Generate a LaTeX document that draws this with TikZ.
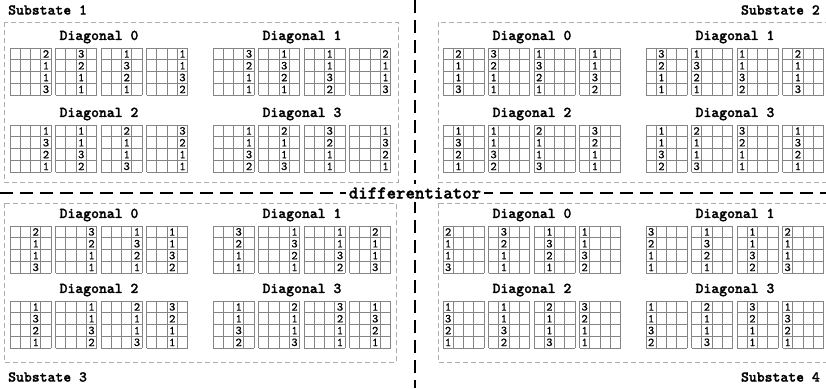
\documentclass[tikz,border=0pt]{standalone}
\usepackage{fontspec}
\newfontfamily\cbold[FakeBold=1.2]{lmmonolt10-bold.otf}
\newfontfamily\creg[FakeBold=0.4]{lmmono10-regular.otf}
\def\cw{10.3}
\def\ch{11.8}
\expandafter\def\csname sq0\endcsname{2,1,1,3}
\expandafter\def\csname sq1\endcsname{3,2,1,1}
\expandafter\def\csname sq2\endcsname{1,3,2,1}
\expandafter\def\csname sq3\endcsname{1,1,3,2}
\newcommand\cellgrid[5]{% name, x, y, col, numbers (macro)
  \begin{scope}[shift={(#2,#3)}]
    \foreach \i in {0,...,4}{
      \draw[gl] ({\i*\cw},0) -- ({\i*\cw},{4*\ch});
      \draw[gl] (0,{\i*\ch}) -- ({4*\cw},{\i*\ch});
    }
    \foreach \n [count=\r from 0] in #5
      \node[num] (#1-\r) at ({(#4-0.5)*\cw},{(\r+0.5)*\ch}) {\n};
  \end{scope}}
\newcommand\diaggroup[7]{% name, x0, ytitle, title, d, a, b
  \node[ttl] (#1-t) at ({#2+89},#3) {#4};
  \foreach \k in {0,...,3}{
    \pgfmathtruncatemacro\s{mod(#5+\k,4)}
    \pgfmathtruncatemacro\c{(\k==0||\k==3) ? #6 : #7}
    \edef\lst{\csname sq\s\endcsname}
    \cellgrid{#1-g\k}{#2+45.5*\k}{#3+11}{\c}{\lst}
  }}
\begin{document}
\begin{tikzpicture}[x=1pt,y=-1pt,
  gl/.style={draw=black!48, line width=0.9pt},
  num/.style={font=\creg\fontsize{12}{12}\selectfont, inner sep=0pt},
  ttl/.style={font=\cbold\fontsize{15}{15}\selectfont, inner sep=0pt},
  lbl/.style={font=\cbold\fontsize{15}{15}\selectfont, inner sep=0pt},
  sbox/.style={draw=black!32, dash pattern=on 5pt off 3pt, line width=0.9pt},
  sepline/.style={line width=2.2pt, dash pattern=on 13pt off 7pt},
]
\fill[white] (0,0) rectangle (826,388);
\useasboundingbox (0,0) rectangle (826,388);

% substate boxes
\draw[sbox] (4,22) rectangle (398,182);
\draw[sbox] (438,22) rectangle (826,182);
\draw[sbox] (4,203) rectangle (396,362);
\draw[sbox] (438,203) rectangle (826,362);

% Substate 1
\diaggroup{s1d0}{10}{37}{Diagonal 0}{0}{4}{3}
\diaggroup{s1d1}{213}{37}{Diagonal 1}{1}{4}{3}
\diaggroup{s1d2}{10}{114}{Diagonal 2}{2}{4}{3}
\diaggroup{s1d3}{213}{114}{Diagonal 3}{3}{4}{3}
% Substate 2
\diaggroup{s2d0}{443}{37}{Diagonal 0}{0}{2}{1}
\diaggroup{s2d1}{646}{37}{Diagonal 1}{1}{2}{1}
\diaggroup{s2d2}{443}{114}{Diagonal 2}{2}{2}{1}
\diaggroup{s2d3}{646}{114}{Diagonal 3}{3}{2}{1}
% Substate 3
\diaggroup{s3d0}{10}{215}{Diagonal 0}{0}{3}{4}
\diaggroup{s3d1}{213}{215}{Diagonal 1}{1}{3}{4}
\diaggroup{s3d2}{10}{290}{Diagonal 2}{2}{3}{4}
\diaggroup{s3d3}{213}{290}{Diagonal 3}{3}{3}{4}
% Substate 4
\diaggroup{s4d0}{443}{215}{Diagonal 0}{0}{1}{2}
\diaggroup{s4d1}{646}{215}{Diagonal 1}{1}{1}{2}
\diaggroup{s4d2}{443}{290}{Diagonal 2}{2}{1}{2}
\diaggroup{s4d3}{646}{290}{Diagonal 3}{3}{1}{2}

% labels
\node[lbl, anchor=west] (sub1) at (8,10) {Substate 1};
\node[lbl, anchor=east] (sub2) at (820,10) {Substate 2};
\node[lbl, anchor=west] (sub3) at (8,377) {Substate 3};
\node[lbl, anchor=east] (sub4) at (820,377) {Substate 4};

% separators
\coordinate (vtop) at (415,0);
\coordinate (vbot) at (415,388);
\coordinate (hl) at (0,193);
\coordinate (hr) at (826,193);
\draw[sepline] (vtop) -- (vbot);
\draw[sepline] (hl) -- (hr);
\node[fill=white, inner sep=3pt, font=\cbold\fontsize{18}{18}\selectfont] (diff) at (415,193) {differentiator};
\end{tikzpicture}
\end{document}
